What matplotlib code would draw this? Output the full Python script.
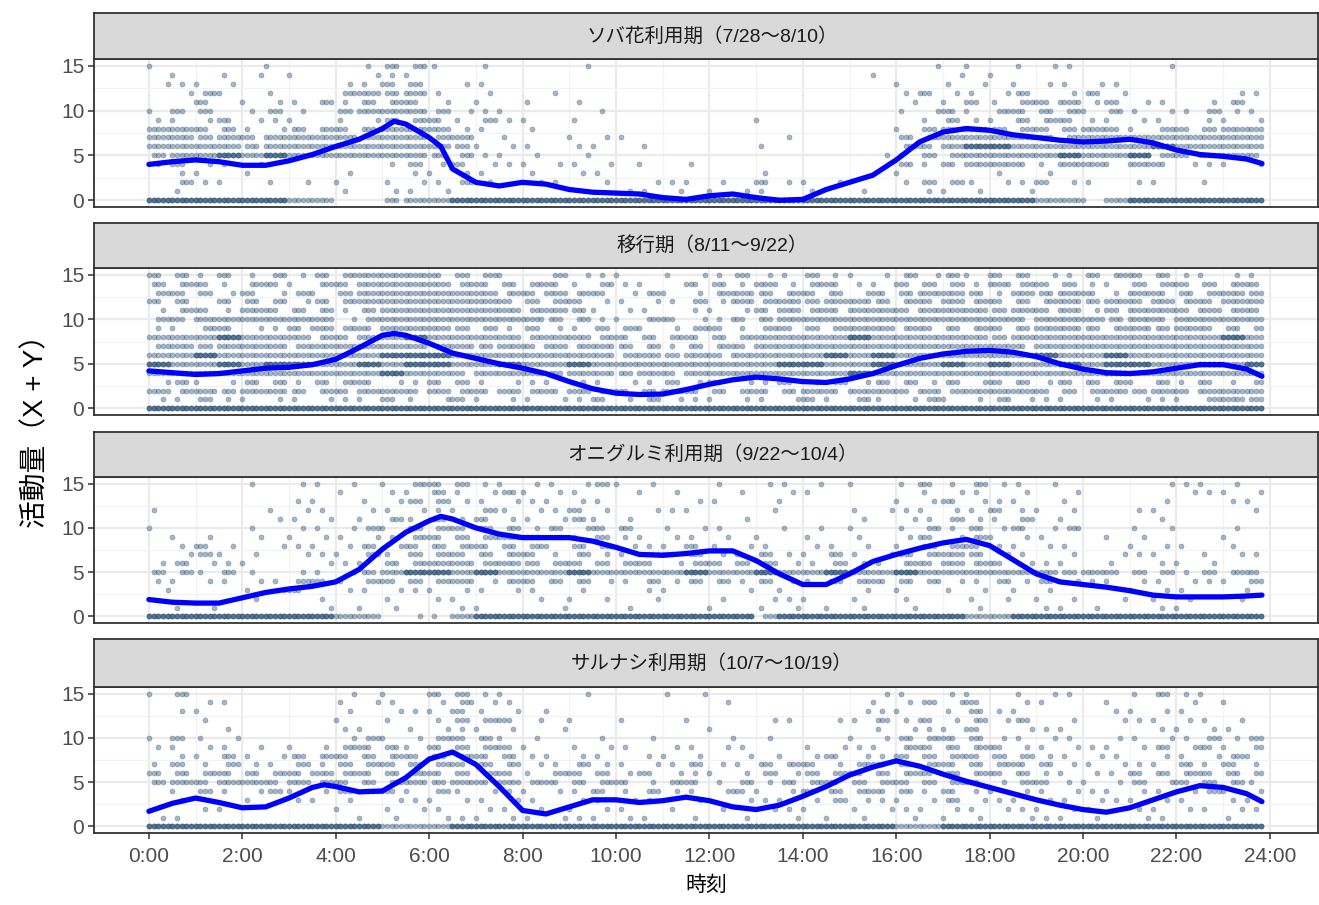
import numpy as np
import matplotlib
matplotlib.use("Agg")
import matplotlib.pyplot as plt

plt.rcParams['font.family'] = ['Noto Sans CJK JP', 'DejaVu Sans']

# ---- panel titles
panel_titles = ["ソバ花利用期（7/28～8/10）",
                "移行期（8/11～9/22）",
                "オニグルミ利用期（9/22～10/4）",
                "サルナシ利用期（10/7～10/19）"]

# ---- smooth curve (hour, value)
smooth_t1 = [0, 0.5, 1, 1.5, 2, 2.5, 3, 3.5, 4, 4.5, 5, 5.25, 5.5, 6, 6.25, 6.5, 7, 7.5, 8, 8.5, 9, 9.5,
             10, 10.5, 11, 11.5, 12, 12.5, 13, 13.5, 14, 14.5, 15, 15.5, 16, 16.5, 17, 17.5, 18, 18.5,
             19, 19.5, 20, 20.5, 21, 21.5, 22, 22.5, 23, 23.5, 23.83]
smooth_v1 = [4.0, 4.3, 4.5, 4.3, 3.9, 3.9, 4.4, 5.1, 6.0, 6.8, 8.0, 8.8, 8.5, 7.0, 6.0, 3.5, 2.0, 1.6, 2.0,
             1.8, 1.2, 0.9, 0.8, 0.7, 0.3, 0.1, 0.5, 0.7, 0.3, 0.0, 0.1, 1.2, 2.0, 2.8, 4.5, 6.5, 7.6,
             8.0, 7.8, 7.3, 7.0, 6.7, 6.5, 6.6, 6.8, 6.4, 5.6, 5.1, 4.9, 4.6, 4.1]

smooth_t2 = [0, 0.5, 1, 1.5, 2, 2.5, 3, 3.5, 4, 4.5, 5, 5.25, 5.5, 6, 6.5, 7, 7.5, 8, 8.5, 9, 9.5,
             10, 10.5, 11, 11.5, 12, 12.5, 13, 13.5, 14, 14.5, 15, 15.5, 16, 16.5, 17, 17.5, 18, 18.5,
             19, 19.5, 20, 20.5, 21, 21.5, 22, 22.5, 23, 23.5, 23.83]
smooth_v2 = [4.2, 4.0, 3.8, 3.9, 4.2, 4.5, 4.6, 4.9, 5.5, 6.8, 8.2, 8.4, 8.2, 7.3, 6.2, 5.6, 5.0, 4.5,
             3.9, 3.0, 2.2, 1.7, 1.55, 1.6, 2.1, 2.7, 3.2, 3.5, 3.3, 3.0, 2.9, 3.3, 3.9, 4.8, 5.6, 6.1,
             6.4, 6.5, 6.3, 5.8, 5.0, 4.4, 4.0, 3.9, 4.1, 4.5, 4.9, 4.9, 4.4, 3.6]

smooth_t3 = [0, 0.5, 1, 1.5, 2, 2.5, 3, 3.5, 4, 4.5, 5, 5.5, 6, 6.25, 6.5, 7, 7.5, 8, 8.5, 9, 9.5,
             10, 10.5, 11, 11.5, 12, 12.5, 13, 13.5, 14, 14.5, 15, 15.5, 16, 16.5, 17, 17.5, 18, 18.5,
             19, 19.5, 20, 20.5, 21, 21.5, 22, 22.5, 23, 23.5, 23.83]
smooth_v3 = [1.9, 1.6, 1.5, 1.5, 2.1, 2.7, 3.1, 3.4, 3.9, 5.3, 7.6, 9.5, 10.8, 11.3, 11.0, 10.0, 9.3,
             8.9, 8.9, 8.9, 8.5, 7.8, 7.0, 6.9, 7.1, 7.4, 7.4, 6.3, 4.8, 3.6, 3.6, 4.8, 6.2, 7.0, 7.7,
             8.3, 8.7, 8.0, 6.4, 4.8, 3.9, 3.6, 3.3, 2.9, 2.4, 2.2, 2.2, 2.2, 2.3, 2.4]

smooth_t4 = [0, 0.5, 1, 1.5, 2, 2.5, 3, 3.5, 3.75, 4, 4.5, 5, 5.5, 6, 6.5, 7, 7.5, 8, 8.5, 9, 9.5,
             10, 10.5, 11, 11.5, 12, 12.5, 13, 13.5, 14, 14.5, 15, 15.5, 16, 16.5, 17, 17.5, 18, 18.5,
             19, 19.5, 20, 20.5, 21, 21.5, 22, 22.5, 23, 23.5, 23.83]
smooth_v4 = [1.7, 2.6, 3.2, 2.7, 2.1, 2.2, 3.2, 4.4, 4.7, 4.5, 3.9, 4.0, 5.5, 7.6, 8.4, 7.0, 4.5, 1.8,
             1.4, 2.2, 3.0, 3.0, 2.7, 2.9, 3.3, 2.9, 2.2, 1.9, 2.4, 3.4, 4.5, 5.8, 6.7, 7.4, 6.8, 5.9,
             5.1, 4.4, 3.7, 3.0, 2.4, 1.9, 1.6, 2.1, 3.0, 3.9, 4.6, 4.4, 3.7, 2.8]

# ---- scatter occupancy: one row per activity value (15 at top, 0 at bottom),
# one digit per 30-minute bin: 0 none, 1 single record, 2 small cluster,
# 3 continuous, 4 continuous and heavily overlapped
occ1 = ["1000 0100 0122 1010 0010 0000 0000 0000 0101 0111 0001 0000",
        "0101 1010 0111 0000 0000 0000 0000 0001 0010 1000 0000 0000",
        "1111 0000 1122 0110 0000 0000 0000 0000 1011 0111 1100 0000",
        "0121 0100 2323 1010 0100 0000 0000 0000 1211 1201 2100 0011",
        "0020 1112 1222 1010 1010 0000 0000 0000 1012 1223 1211 0120",
        "1220 1210 2333 2111 0001 0000 0000 0000 1121 2222 1211 1211",
        "1112 1110 1122 2121 1010 0000 0010 0000 0121 1222 1111 0111",
        "3322 1122 2233 3110 1000 0000 0000 0000 1233 2222 3212 2233",
        "3323 2333 3233 2301 0011 1000 0001 0000 2233 3322 3333 3333",
        "3333 2333 3333 3211 1011 0100 0010 0000 2234 4333 3334 3333",
        "2334 3433 3333 2211 1010 0000 0000 0001 1223 3334 3342 2332",
        "1211 1000 0012 1211 1111 0101 0000 0000 2123 3213 3132 1111",
        "0110 1000 1001 1110 1011 0000 0010 0000 1000 1010 0000 0000",
        "0211 0110 1011 1210 1101 0111 1021 1100 1221 1121 1011 0100",
        "0100 0000 1011 1000 0000 1110 1110 1010 0111 0100 0000 0000",
        "4444 4433 0023 3444 4444 4444 4444 4444 4444 4433 1344 4444"]

occ2 = ["2212 1212 2333 2221 0211 1011 1211 2111 2121 2211 2222 1111",
        "2221 2212 2333 3222 2212 1102 2131 2211 2221 3222 1122 2222",
        "2221 2121 2333 3332 2322 1211 2322 2212 2332 1323 2132 2232",
        "2202 2212 2333 3332 2221 1112 1323 2332 2232 2223 2323 2233",
        "1221 3222 1233 3333 2321 1101 1123 2233 2333 2323 1233 2322",
        "2233 3333 1233 3333 3221 1221 1223 3333 3333 3233 3232 3333",
        "1122 1123 2233 3221 2112 2112 2122 2233 2222 2233 2232 3222",
        "3334 3332 2334 3333 2332 2222 2233 3343 3333 2333 3333 3343",
        "2323 3323 3333 2323 2323 2212 2233 3333 3333 3233 3333 3333",
        "3343 3333 3344 4333 3333 2323 2333 3434 3333 3343 3433 3333",
        "4334 3443 3434 4334 3343 3333 3334 4334 3343 4334 3443 3434",
        "3333 3333 3343 3233 3233 2323 3333 3343 3333 3333 3433 3333",
        "1211 2212 2211 2211 1111 1121 2112 1212 2121 2212 2212 1212",
        "3232 3322 2332 3223 2232 2232 2222 3233 2323 3322 2323 2333",
        "1121 1111 1121 1211 1112 1211 1111 2121 1211 2111 1111 1232",
        "4444 4444 4444 4444 4444 4444 4444 4444 4444 4444 4444 4444"]

occ3 = ["0000 1011 1012 2211 1112 1100 1011 1010 1212 1110 0001 1110",
        "0000 0000 1011 2112 1110 0110 0101 1000 0111 0101 0000 1111",
        "0000 0011 0112 2111 1111 0001 1001 0000 1121 1101 0001 0011",
        "1000 0111 0111 1121 1121 0111 0010 0011 1111 2111 0011 0001",
        "0000 0111 0121 2121 1121 1000 0100 0010 1121 1201 0001 0001",
        "1000 1011 1212 2222 1212 2011 1001 1010 1212 1212 0011 0010",
        "0110 1011 1112 2223 2112 1111 1010 1010 1212 1110 0110 0010",
        "0121 0111 1212 2222 2122 1112 1110 1110 1222 1111 0011 1010",
        "0121 1011 1212 2222 2121 1222 1121 1211 2232 1101 0111 0111",
        "1211 1001 1122 3323 2222 2212 2221 1211 2232 2111 0101 1101",
        "2212 1011 1234 4343 3343 3334 3343 3433 4333 3332 3222 1222",
        "1111 1122 1222 2312 2221 1212 2121 1222 2211 2121 1111 1112",
        "1000 1120 1111 1111 1010 0110 0101 0010 1011 0110 0011 1001",
        "0000 1001 0010 1100 1011 0100 1011 1010 1001 1011 0101 1010",
        "0110 0001 0110 0110 0100 1000 1011 0110 1001 0011 1001 1000",
        "4444 4444 3301 1344 4444 4444 4424 4444 4443 3444 4444 4444"]

occ4 = ["1200 0000 1010 2211 0010 0011 0000 0001 1011 0111 0012 1100",
        "0011 0000 1110 1211 0000 0000 1000 0001 1212 0110 0100 1010",
        "0110 0000 1011 1211 0100 0000 0000 0011 1012 1100 0111 1000",
        "0010 0000 1010 1222 1010 1001 0011 0112 1212 1201 0111 1110",
        "0001 0000 1101 1111 0100 0000 1000 0001 1112 0111 0001 1111",
        "1211 0000 1211 2221 1001 0100 0110 0011 2222 1111 0111 1212",
        "1111 1011 2221 2222 1011 1011 1100 1111 2222 2111 1112 1212",
        "0112 1122 2222 2222 1111 0111 0101 1211 2222 2211 1101 1121",
        "1212 1121 2222 2222 1121 1112 1122 2122 2222 2221 1111 2121",
        "2222 2223 2222 2222 1222 1211 1121 2222 2222 2211 1122 2222",
        "2323 3232 2223 2323 2222 2122 1212 2222 2222 1221 1121 2221",
        "0121 1211 2221 2111 1112 1211 1211 2222 2121 1111 1111 1211",
        "0100 1011 1011 1111 1011 1101 0111 1211 1121 1111 1111 1011",
        "0011 0000 1011 1011 1011 1010 1011 1011 1111 1111 1011 1111",
        "1100 0000 0110 1111 1111 1101 0101 0110 1011 0111 1011 0011",
        "4444 4444 4433 3444 4444 4444 4444 4444 3344 4444 4444 4444"]

occupancy = [occ1, occ2, occ3, occ4]
smooth = [(smooth_t1, smooth_v1), (smooth_t2, smooth_v2),
          (smooth_t3, smooth_v3), (smooth_t4, smooth_v4)]

x_ticks = list(range(0, 25, 2))
x_labels = ["%d:00" % h for h in x_ticks]


# records fall roughly every 6 minutes -> 5 slots per 30-minute bin;
# the slot used by a lone record / short cluster shifts with row and bin
def bin_slots(n, b, k):
    if n == 0:
        return []
    if n == 1:
        return [(3 * b + 2 * k) % 5]
    if n == 2:
        st = (b + k) % 3
        return [st, st + 1, st + 2]
    return [0, 1, 2, 3, 4]


def occupancy_points(rows):
    xs, ys = [], []
    for k, row in enumerate(rows):
        yv = 15 - k
        cells = row.replace(" ", "")
        for b, ch in enumerate(cells):
            n = int(ch)
            layers = 3 if n == 4 else 1
            for _ in range(layers):
                for s in bin_slots(n, b, k):
                    t = b * 0.5 + s * 0.1
                    if t <= 23.85:
                        xs.append(t)
                        ys.append(yv)
    return np.array(xs), np.array(ys)


W, H = 1319, 905
fig = plt.figure(figsize=(W / 100, H / 100), dpi=100)

# pixel boxes: strip top, plot top, plot bottom
boxes = [(13, 59, 207), (223, 268, 415), (432, 477, 623), (639, 687, 833)]
left_px, right_px = 94, 1318
border = '#333333'
tick_font = ['Liberation Sans', 'DejaVu Sans']

for i, (s_top, p_top, p_bot) in enumerate(boxes):
    l = left_px / W
    w = (right_px - left_px) / W
    ax = fig.add_axes([l, 1 - p_bot / H, w, (p_bot - p_top) / H])
    sx = fig.add_axes([l, 1 - p_top / H, w, (p_top - s_top) / H])

    xs, ys = occupancy_points(occupancy[i])
    ax.scatter(xs, ys, s=13, color='#30557a', alpha=0.42, linewidths=0.5,
               edgecolors='#30557a', zorder=2)
    t, v = smooth[i]
    ax.plot(t, v, color='#0000ff', lw=3.8, solid_joinstyle='round',
            solid_capstyle='round', zorder=3)

    ax.set_xlim(-1.175, 25.03)
    ax.set_ylim(-0.75, 15.75)
    ax.set_yticks([0, 5, 10, 15])
    ax.set_yticks([2.5, 7.5, 12.5], minor=True)
    ax.set_xticks(x_ticks)
    ax.set_xticks(list(range(1, 25, 2)), minor=True)
    ax.grid(which='major', color='#ebebeb', lw=1.6, zorder=0)
    ax.grid(which='minor', color='#f2f2f2', lw=0.9, zorder=0)
    ax.set_axisbelow(True)
    for sp in ax.spines.values():
        sp.set_color(border)
        sp.set_linewidth(1.3)
    ax.tick_params(axis='y', which='major', length=4, width=1.1, color=border,
                   labelsize=15, labelcolor='#4d4d4d', pad=3)
    ax.tick_params(which='minor', length=0)
    if i == 3:
        ax.set_xticklabels(x_labels)
        ax.tick_params(axis='x', which='major', length=4, width=1.1, color=border,
                       labelsize=15, labelcolor='#4d4d4d', pad=6)
    else:
        ax.tick_params(axis='x', which='major', length=0, labelbottom=False)
    for lab in ax.get_xticklabels() + ax.get_yticklabels():
        lab.set_family(tick_font)

    sx.set_facecolor('#d9d9d9')
    sx.set_xticks([])
    sx.set_yticks([])
    for sp in sx.spines.values():
        sp.set_color(border)
        sp.set_linewidth(1.3)
    sx.text(0.505, 0.5, panel_titles[i], ha='center', va='center',
            fontsize=14, color='#1a1a1a', transform=sx.transAxes,
            family=['Liberation Sans', 'Noto Sans CJK JP'])

fig.text(0.027, 0.531, "活動量（X + Y）", rotation=90, ha='center', va='center',
         fontsize=20, color='black', family=['Liberation Sans', 'Noto Sans CJK JP'])
fig.text(706 / W, 1 - 885 / H, "時刻", ha='center', va='center',
         fontsize=15, color='black')

fig.savefig("out.png", dpi=100)
